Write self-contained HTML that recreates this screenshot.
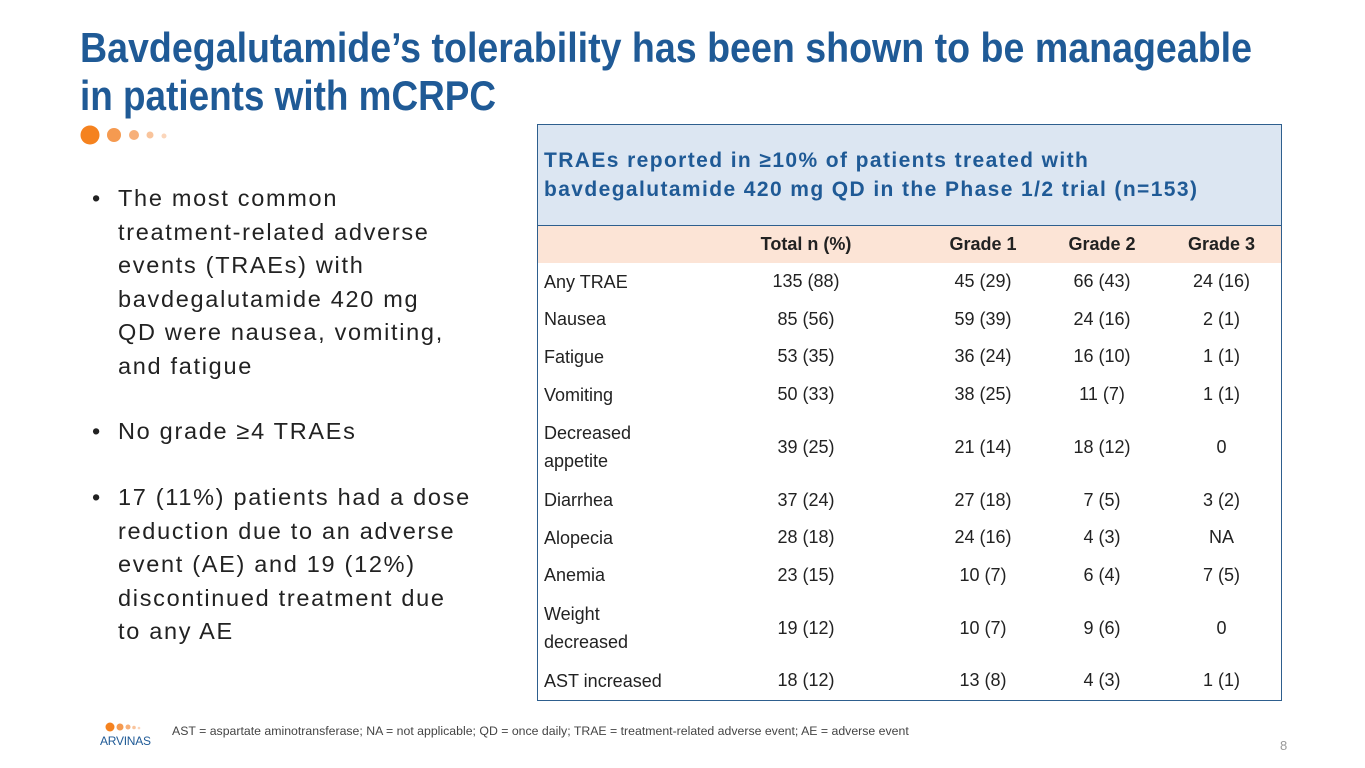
<!DOCTYPE html>
<html><head><meta charset="utf-8"><style>
body{margin:0;width:1365px;height:768px;background:#fff;position:relative;overflow:hidden;font-family:"Liberation Sans",sans-serif}
.abs{position:absolute}
.bul{position:absolute;left:92px;font-size:23.5px;color:#222;line-height:33.5px;width:440px;letter-spacing:1.7px}
.bul span.dot{position:absolute;left:0}
.bul div{padding-left:26px;white-space:nowrap}
table{border-collapse:collapse;position:absolute;left:537px;top:124px;width:745px;font-size:18px;color:#222}
td{text-align:center;padding:0}
td.l{text-align:left;padding-left:6px;line-height:28px}
tr.r td{height:37.6px}
tr.r2 td{height:68px}
</style></head><body>
<svg class="abs" style="left:0;top:0" width="1365" height="130">
<text x="80" y="62" font-family="Liberation Sans" font-weight="bold" font-size="42" fill="#1f5a96" textLength="1172" lengthAdjust="spacingAndGlyphs">Bavdegalutamide’s tolerability has been shown to be manageable</text>
<text x="80" y="110" font-family="Liberation Sans" font-weight="bold" font-size="42" fill="#1f5a96" textLength="416" lengthAdjust="spacingAndGlyphs">in patients with mCRPC</text>
</svg>
<svg class="abs" style="left:78px;top:124px" width="100" height="24">
<circle cx="12" cy="11" r="9.5" fill="#f5821f"/><circle cx="36" cy="11" r="7" fill="#f59a50"/><circle cx="56" cy="11" r="5" fill="#f7b07a"/><circle cx="72" cy="11" r="3.5" fill="#f9c49c"/><circle cx="86" cy="12" r="2.5" fill="#fbd6bb"/>
</svg>
<div class="bul" style="top:182px"><span class="dot">•</span><div>The most common<br>treatment-related adverse<br>events (TRAEs) with<br>bavdegalutamide 420 mg<br>QD were nausea, vomiting,<br>and fatigue</div></div>
<div class="bul" style="top:415px"><span class="dot">•</span><div>No grade ≥4 TRAEs</div></div>
<div class="bul" style="top:481px"><span class="dot">•</span><div>17 (11%) patients had a dose<br>reduction due to an adverse<br>event (AE) and 19 (12%)<br>discontinued treatment due<br>to any AE</div></div>
<table>
<tr><td colspan="5" style="height:100px;background:#dce6f2;border:1.5px solid #2e5f8e;text-align:left;padding-left:6px;color:#1f5a96;font-weight:bold;font-size:21px;letter-spacing:1.4px;line-height:29px">TRAEs reported in ≥10% of patients treated with<br>bavdegalutamide 420 mg QD in the Phase 1/2 trial (n=153)</td></tr>
<tbody style="border:1.5px solid #2e5f8e">
<tr style="background:#fce4d6;font-weight:bold;font-size:18px"><td style="height:37px;width:150px"></td><td style="width:236px">Total n (%)</td><td style="width:118px">Grade 1</td><td style="width:120px">Grade 2</td><td>Grade 3</td></tr>
<tr class="r"><td class="l">Any TRAE</td><td>135 (88)</td><td>45 (29)</td><td>66 (43)</td><td>24 (16)</td></tr>
<tr class="r"><td class="l">Nausea</td><td>85 (56)</td><td>59 (39)</td><td>24 (16)</td><td>2 (1)</td></tr>
<tr class="r"><td class="l">Fatigue</td><td>53 (35)</td><td>36 (24)</td><td>16 (10)</td><td>1 (1)</td></tr>
<tr class="r"><td class="l">Vomiting</td><td>50 (33)</td><td>38 (25)</td><td>11 (7)</td><td>1 (1)</td></tr>
<tr class="r2"><td class="l">Decreased<br>appetite</td><td>39 (25)</td><td>21 (14)</td><td>18 (12)</td><td>0</td></tr>
<tr class="r"><td class="l">Diarrhea</td><td>37 (24)</td><td>27 (18)</td><td>7 (5)</td><td>3 (2)</td></tr>
<tr class="r"><td class="l">Alopecia</td><td>28 (18)</td><td>24 (16)</td><td>4 (3)</td><td>NA</td></tr>
<tr class="r"><td class="l">Anemia</td><td>23 (15)</td><td>10 (7)</td><td>6 (4)</td><td>7 (5)</td></tr>
<tr class="r2"><td class="l">Weight<br>decreased</td><td>19 (12)</td><td>10 (7)</td><td>9 (6)</td><td>0</td></tr>
<tr class="r"><td class="l">AST increased</td><td>18 (12)</td><td>13 (8)</td><td>4 (3)</td><td>1 (1)</td></tr>
</tbody></table>
<svg class="abs" style="left:98px;top:720px" width="60" height="30">
<circle cx="12" cy="7" r="4.5" fill="#f5821f"/><circle cx="22" cy="7" r="3.5" fill="#f59a50"/><circle cx="30" cy="7" r="2.5" fill="#f7b07a"/><circle cx="36" cy="7.5" r="1.8" fill="#f9c49c"/><circle cx="41" cy="8" r="1.3" fill="#fbd6bb"/>
<text x="2" y="25" font-family="Liberation Sans" font-size="12" fill="#1f5a96" textLength="51" lengthAdjust="spacing">ARVINAS</text>
</svg>
<div class="abs" style="left:172px;top:724px;font-size:12.3px;color:#444;white-space:nowrap">AST = aspartate aminotransferase; NA = not applicable; QD = once daily; TRAE = treatment-related adverse event; AE = adverse event</div>
<div class="abs" style="left:1280px;top:738px;font-size:13px;color:#999">8</div>
</body></html>
